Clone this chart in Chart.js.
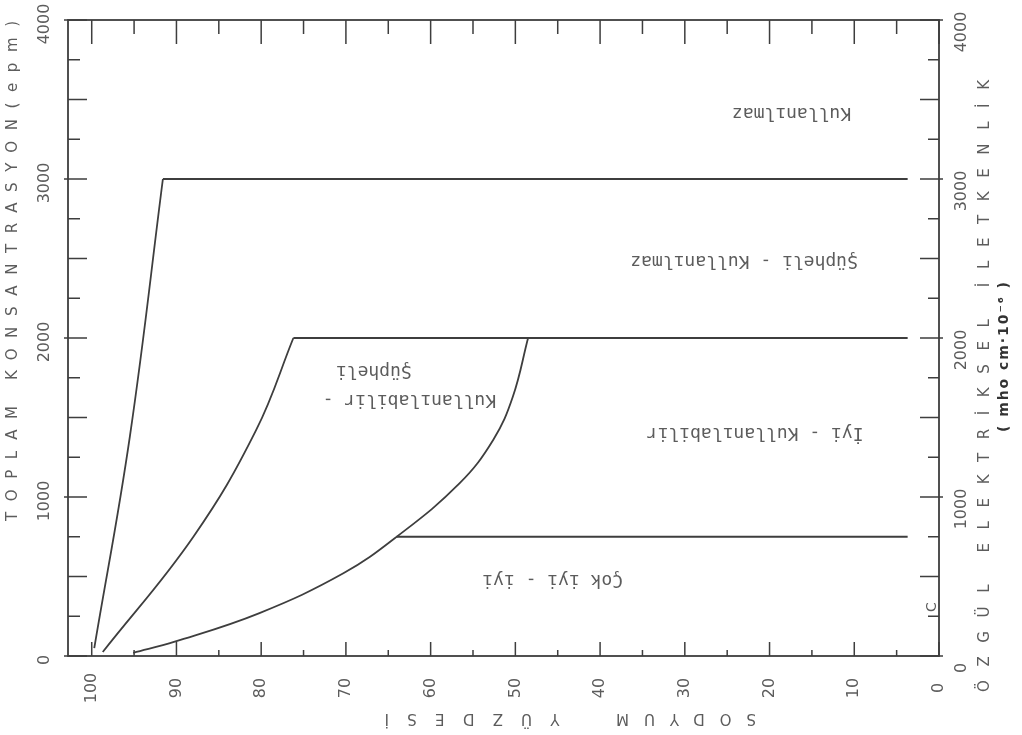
<!DOCTYPE html>
<html>
<head>
<meta charset="utf-8">
<script src="https://cdn.jsdelivr.net/npm/chart.js@4.4.1/dist/chart.umd.min.js"></script>
<style>
  html, body { margin: 0; padding: 0; background: #fff; }
  canvas { display: block; }
</style>
</head>
<body>
<canvas id="wilcox" width="1022" height="735"></canvas>
<script>
// boundary lines (sodium %, concentration)
var sodiumA = [99.7, 95.5, 91.6];
var concA   = [50, 1380, 3000];

var sodiumB = [98.7, 88.0, 80.6, 76.2];
var concB   = [25, 750, 1420, 2000];

var sodiumC = [95.1, 90.2, 80.2, 70.3, 64.0, 56.6, 52.6, 50.3, 48.5];
var concC   = [20, 90, 270, 520, 750, 1085, 1360, 1630, 2000];

// horizontal limits
var levelConc  = [3000, 2000, 750];
var levelStart = [91.6, 76.2, 64.0];
var levelEnd   = 3.7;

var xTicks = [100, 90, 80, 70, 60, 50, 40, 30, 20, 10, 0];
var yTicks = [0, 1000, 2000, 3000, 4000];

var zoneText = ['Kullanılmaz', 'Şüpheli - Kullanılmaz', 'İyi - Kullanılabilir',
                'Kullanılabilir -', 'Şüpheli', 'Çok iyi - iyi'];
var zoneSodium = [17.4, 23.0, 21.7, 62.5, 66.7, 45.6];
var zoneConc   = [3415, 2484, 1402, 1610, 1792, 478];

var ink = '#3e3e3e';
var textInk = '#5c5c5c';

function pts(xs, ys) {
  return xs.map(function(v, i) { return {x: v, y: ys[i]}; });
}

function lineSet(data, tension) {
  return {
    data: data,
    borderColor: ink,
    borderWidth: 1.8,
    pointRadius: 0,
    fill: false,
    tension: tension
  };
}

var sets = [
  lineSet(pts(sodiumA, concA), 0.4),
  lineSet(pts(sodiumB, concB), 0.4),
  lineSet(pts(sodiumC, concC), 0.4)
];
levelConc.forEach(function(c, i) {
  sets.push(lineSet([{x: levelStart[i], y: c}, {x: levelEnd, y: c}], 0));
});

// text drawn rotated, spread so it fills a given length
function spreadText(ctx, txt, x, y, angle, font, length) {
  ctx.save();
  ctx.translate(x, y);
  ctx.rotate(angle);
  ctx.font = font;
  var sp = 0;
  if (length) {
    var w = ctx.measureText(txt).width;
    sp = (length - w) / Math.max(txt.length - 1, 1);
  }
  ctx.letterSpacing = sp + 'px';
  ctx.textAlign = 'center';
  ctx.textBaseline = 'middle';
  ctx.fillText(txt, sp / 2, 0);
  ctx.restore();
}

var scanAxes = {
  id: 'scanAxes',
  afterDraw: function(chart) {
    var ctx = chart.ctx;
    var a = chart.chartArea;
    var xs = chart.scales.x, ys = chart.scales.y;
    ctx.save();
    ctx.strokeStyle = ink;
    ctx.lineWidth = 1.8;
    ctx.strokeRect(a.left, a.top, a.right - a.left, a.bottom - a.top);

    ctx.lineWidth = 1.5;
    ctx.beginPath();
    for (var s = 0; s <= 100; s += 5) {
      var px = xs.getPixelForValue(s);
      var big = s % 10 === 0;
      ctx.moveTo(px, a.bottom); ctx.lineTo(px, a.bottom - (big ? 14 : 6));
      ctx.moveTo(px, a.top);    ctx.lineTo(px, a.top + (big ? 24 : 14));
    }
    for (var c = 0; c <= 4000; c += 250) {
      var py = ys.getPixelForValue(c);
      var major = c % 1000 === 0, half = c % 500 === 0;
      ctx.moveTo(a.left - (major ? 4 : 0), py);
      ctx.lineTo(a.left + (half ? 19 : 12), py);
      ctx.moveTo(a.right + (major ? 4 : 0), py);
      ctx.lineTo(a.right - (half ? 19 : 11), py);
    }
    ctx.stroke();

    ctx.fillStyle = textInk;
    xTicks.forEach(function(v) {
      spreadText(ctx, String(v), xs.getPixelForValue(v), a.bottom + 32, -Math.PI / 2, '16px "DejaVu Sans"');
    });
    yTicks.forEach(function(v) {
      var py = ys.getPixelForValue(v);
      spreadText(ctx, String(v), 45, py + 4, -Math.PI / 2, '16px "DejaVu Sans"');
      spreadText(ctx, String(v), 962, py + 12, -Math.PI / 2, '16px "DejaVu Sans"');
    });

    spreadText(ctx, 'TOPLAM KONSANTRASYON(epm)', 13, 271, -Math.PI / 2, '15px "DejaVu Sans"', 500);
    spreadText(ctx, 'SODYUM', 686, 718, Math.PI, '15px "DejaVu Sans"', 140);
    spreadText(ctx, 'YÜZDESİ', 472, 718, Math.PI, '15px "DejaVu Sans"', 175);
    spreadText(ctx, 'ÖZGÜL ELEKTRİKSEL İLETKENLİK', 985, 386, -Math.PI / 2, '15px "DejaVu Sans"', 612);
    ctx.fillStyle = '#333';
    spreadText(ctx, '( mho cm·10⁻⁶ )', 1004, 357, -Math.PI / 2, 'bold 14px "DejaVu Sans"', 150);

    ctx.fillStyle = textInk;
    zoneText.forEach(function(t, i) {
      spreadText(ctx, t, xs.getPixelForValue(zoneSodium[i]), ys.getPixelForValue(zoneConc[i]),
        Math.PI, '18px "DejaVu Sans Mono"');
    });
    spreadText(ctx, 'C', xs.getPixelForValue(0.8), ys.getPixelForValue(308), -Math.PI / 2, '14px "DejaVu Sans"');
    ctx.restore();
  }
};

new Chart(document.getElementById('wilcox'), {
  type: 'line',
  data: { datasets: sets },
  options: {
    responsive: false,
    animation: false,
    devicePixelRatio: 1,
    layout: { padding: { left: 68, right: 83, top: 20, bottom: 79 } },
    plugins: { legend: { display: false }, tooltip: { enabled: false } },
    scales: {
      x: { type: 'linear', reverse: true, min: 0, max: 102.8, display: false },
      y: { type: 'linear', min: 0, max: 4000, display: false }
    }
  },
  plugins: [scanAxes]
});
</script>
</body>
</html>
